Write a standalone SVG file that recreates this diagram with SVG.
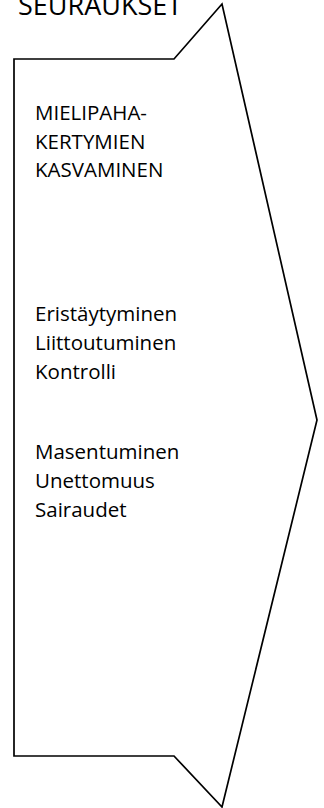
<svg xmlns="http://www.w3.org/2000/svg" width="324" height="808" viewBox="0 0 324 808">
<style>
  .shape { fill: #ffffff; stroke: #000000; stroke-width: 1.7; stroke-linejoin: miter; }
  .t { font-family: "Open Sans", "Liberation Sans", sans-serif; font-size: 20.5px; fill: #000000; }
  .title { font-family: "Open Sans", "Liberation Sans", sans-serif; font-size: 27px; fill: #000000; }
</style>
<rect width="324" height="808" fill="#ffffff"/>
<g id="title">
  <text class="title" x="18" y="14.5">SEURAUKSET</text>
</g>
<g id="arrow-shape">
  <polygon class="shape" points="14,59 174,59 222,4 317,420 222,807 174,756 14,756"/>
</g>
<g id="text-1">
  <text class="t" x="35" y="120">MIELIPAHA-</text>
  <text class="t" x="35" y="148.5">KERTYMIEN</text>
  <text class="t" x="35" y="177">KASVAMINEN</text>
</g>
<g id="text-2">
  <text class="t" x="35" y="321">Eristäytyminen</text>
  <text class="t" x="35" y="350">Liittoutuminen</text>
  <text class="t" x="35" y="379">Kontrolli</text>
</g>
<g id="text-3">
  <text class="t" x="35" y="459">Masentuminen</text>
  <text class="t" x="35" y="488">Unettomuus</text>
  <text class="t" x="35" y="517">Sairaudet</text>
</g>
</svg>
